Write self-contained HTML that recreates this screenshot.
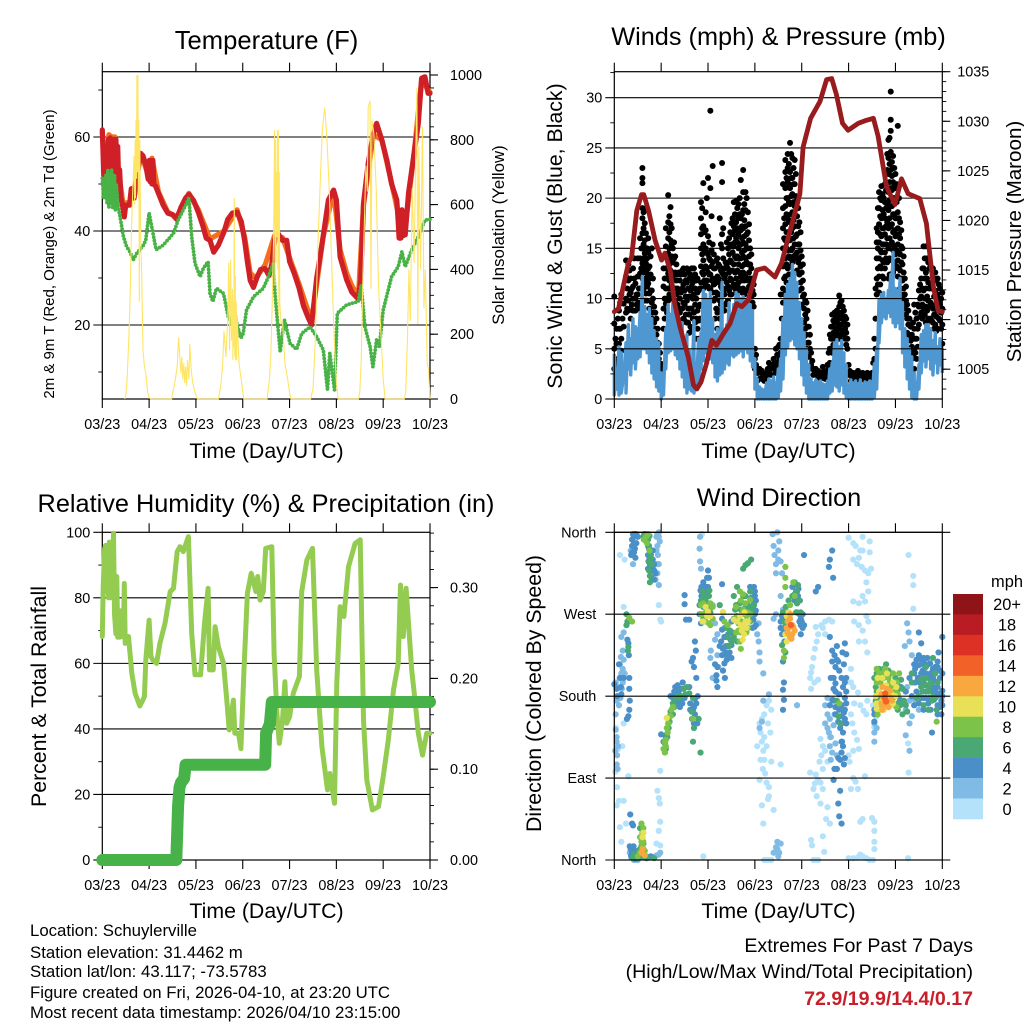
<!DOCTYPE html>
<html lang="en">
<head>
<meta charset="utf-8">
<title>Station Meteogram - Schuylerville</title>
<style>
html,body{margin:0;padding:0;background:#fff;}
svg{display:block;font-family:"Liberation Sans",sans-serif;fill:#000;}
text{fill:#000;}
.t{font-size:25.3px;text-anchor:middle;}
.a{font-size:21.3px;text-anchor:middle;}
.f{font-size:16.8px;}
.e{font-size:19.6px;text-anchor:end;}
</style>
</head>
<body>
<svg id="fig" width="1024" height="1024" viewBox="0 0 1024 1024" xmlns="http://www.w3.org/2000/svg">
<rect x="0" y="0" width="1024" height="1024" fill="#fff"/>
<g id="p1"></g>
<g id="p2"></g>
<g id="p3"></g>
<g id="p4"></g>
<g id="legend"></g>
<text class="t" style="font-size:25.6px" x="266.5" y="49">Temperature (F)</text>
<text class="t" x="778.5" y="45">Winds (mph) &amp; Pressure (mb)</text>
<text class="t" x="266" y="512">Relative Humidity (%) &amp; Precipitation (in)</text>
<text class="t" x="779" y="506">Wind Direction</text>
<text class="a" x="266.5" y="458">Time (Day/UTC)</text>
<text class="a" x="778.5" y="458">Time (Day/UTC)</text>
<text class="a" x="266.5" y="918">Time (Day/UTC)</text>
<text class="a" x="778.5" y="918">Time (Day/UTC)</text>
<text font-size="15" text-anchor="middle" transform="translate(54,254) rotate(-90)">2m &amp; 9m T (Red, Orange) &amp; 2m Td (Green)</text>
<text font-size="16.8" text-anchor="middle" transform="translate(504,235) rotate(-90)">Solar Insolation (Yellow)</text>
<text class="a" transform="translate(562,236) rotate(-90)">Sonic Wind &amp; Gust (Blue, Black)</text>
<text class="a" style="font-size:20.6px" transform="translate(1021,241.5) rotate(-90)">Station Pressure (Maroon)</text>
<text class="a" transform="translate(46,696.5) rotate(-90)">Percent &amp; Total Rainfall</text>
<text class="a" transform="translate(541,693.5) rotate(-90)">Direction (Colored By Speed)</text>
<text class="f" x="30" y="936">Location: Schuylerville</text>
<text class="f" x="30" y="958">Station elevation: 31.4462 m</text>
<text class="f" x="30" y="977">Station lat/lon: 43.117; -73.5783</text>
<text class="f" x="30" y="998">Figure created on Fri, 2026-04-10, at 23:20 UTC</text>
<text class="f" x="30" y="1018">Most recent data timestamp: 2026/04/10 23:15:00</text>
<text class="e" x="973" y="952">Extremes For Past 7 Days</text>
<text class="e" x="973" y="978">(High/Low/Max Wind/Total Precipitation)</text>
<text class="e" x="973" y="1005" font-weight="bold" style="fill:#c8202a">72.9/19.9/14.4/0.17</text>
</svg>
<script>
// ---- categories and tick labels ----
var dayLabels = ["03/23","04/23","05/23","06/23","07/23","08/23","09/23","10/23"];
var tempTicks = [20,40,60];
var solarTicks = [0,200,400,600,800,1000];
var windTicks = [0,5,10,15,20,25,30];
var pressureTicks = [1005,1010,1015,1020,1025,1030,1035];
var rhTicks = [0,20,40,60,80,100];
var rainTicks = [0,0.1,0.2,0.3];
var dirTicks = [0,90,180,270,360];
var dirTickLabels = ["North","East","South","West","North"];
var speedLabels = ["20+","18","16","14","12","10","8","6","4","2","0"];

// ---- temperature panel series ----
var tempDays = [0,.015,.03,.05,.07,.09,.11,.13,.15,.17,.19,.21,.23,.25,.27,.29,.31,.33,.35,.37,.4,.44,.47,.5,.58,.62,.68,.72,.78,.82,.87,.93,.98,1,1.02,1.04,1.06,1.08,1.1,1.14,1.2,1.3,1.4,1.5,1.59,1.68,1.78,1.85,1.95,2.05,2.15,2.22,2.3,2.38,2.48,2.6,2.68,2.78,2.88,2.97,3.04,3.1,3.16,3.23,3.3,3.38,3.48,3.56,3.62,3.68,3.75,3.85,3.94,4,4.1,4.2,4.3,4.4,4.47,4.58,4.72,4.83,4.94,5,5.08,5.22,5.33,5.47,5.52,5.58,5.68,5.79,5.86,5.97,6.08,6.18,6.29,6.32,6.34,6.36,6.38,6.4,6.43,6.45,6.47,6.54,6.65,6.75,6.82,6.89,6.96,7];
var tempF = [61.5,57,52,50,54,50.5,56,59.5,52,59.8,51,50,57,59.5,52,59.5,54,58,50,53,47,45,43,45.5,45.5,49,47,50,54,56.5,56,54,51,55,50.5,55,50,55,50,49.5,48,45.5,43.8,43.5,42.5,45,47,47.8,46.5,44,41,38.5,38,35.5,37,39.8,42.5,43.8,44,42,38,33.5,29.5,28,30,31.8,32,30.5,33,38,39.5,38,38,33.5,31,28,24,21.5,20,30,39,46.6,48.7,46.6,34.5,29.6,27,25.5,29.6,45.9,54.4,60.8,62.9,59.4,55,50,46.6,42,38.5,44,38.5,44.5,39,44,39.2,48,55.8,62.9,72.5,72.8,69.3,69.3];
var temp9mDays = [0,.06,.14,.2,.27,.34,.44,.58,.72,.82,.98,1.06,1.2,1.4,1.59,1.85,2.05,2.3,2.6,2.88,3.04,3.16,3.28,3.48,3.68,3.85,4,4.2,4.47,4.72,4.94,5.08,5.22,5.33,5.47,5.58,5.79,5.97,6.18,6.36,6.47,6.65,6.82,7];
var temp9mF = [61,52,60.5,60,60,53,46,46,50.5,56.5,52,55.5,48.3,44,43,48,44.5,38.3,40,44.5,38.8,31,30,32.8,39,38.6,34.3,28.8,20.8,39,48.5,36,31,28.4,26,45.5,60.5,59.4,50.2,42,41,55.6,72,69.5];
var tdDays = [0,.03,.06,.08,.1,.12,.14,.16,.18,.2,.22,.24,.26,.28,.3,.33,.35,.38,.45,.52,.59,.66,.73,.88,.93,1,1.07,1.15,1.3,1.52,1.62,1.8,1.85,1.91,1.98,2.09,2.16,2.26,2.3,2.36,2.44,2.59,2.69,2.76,2.81,2.87,2.96,3.01,3.08,3.23,3.44,3.55,3.65,3.69,3.75,3.8,3.89,4.01,4.15,4.26,4.44,4.58,4.72,4.81,4.86,4.96,5.02,5.22,5.47,5.53,5.61,5.72,5.78,5.86,5.92,6,6.18,6.32,6.4,6.47,6.61,6.75,6.89,7];
var tdF = [51.2,47,48,52,46,53,45,52,45.5,53,45,45.9,52,44.5,50,46,44.5,43,38.8,36.7,35.6,33.8,35.2,37,38.1,43.8,40.2,36,37,39.5,42.3,45.9,47,38.8,33.1,30.3,32.1,33.5,26.7,25,27.8,26.7,21.8,20.4,23.9,20.4,17.2,18.2,23.2,26,27.8,30.3,33.1,26.7,19.6,14.3,21.1,16.1,14.8,18.2,19.6,17.5,14.7,6.2,14,6.2,22.5,24.3,25,28.5,19.6,15.4,11.1,16.8,15.4,23.2,30.3,32.4,35.6,32.4,36,38.8,42.3,42.5];
var solarObs = [[.48,0],[.5,10],[.53,60],[.57,200],[.6,350],[.62,500],[.65,640],[.68,750],[.69,600],[.7,800],[.71,620],[.72,860],[.73,680],[.74,1000],[.75,700],[.76,1000],[.77,620],[.78,860],[.79,300],[.8,800],[.82,500],[.84,400],[.87,150],[.9,100],[.93,80],[.97,20],[1,5],[1.03,0],
[1.48,0],[1.52,30],[1.56,60],[1.6,100],[1.63,190],[1.66,120],[1.68,80],[1.7,130],[1.72,60],[1.74,110],[1.76,50],[1.78,100],[1.8,40],[1.82,120],[1.85,60],[1.87,170],[1.9,90],[1.93,50],[1.98,20],[2.03,0],
[2.48,0],[2.53,40],[2.57,100],[2.6,210],[2.64,130],[2.68,250],[2.7,420],[2.72,150],[2.74,430],[2.76,180],[2.78,340],[2.79,120],[2.8,300],[2.81,160],[2.82,620],[2.83,130],[2.84,380],[2.85,120],[2.86,300],[2.87,120],[2.88,260],[2.92,110],[2.97,60],[3.02,0],
[3.52,0],[3.57,60],[3.6,130],[3.63,290],[3.66,500],[3.68,830],[3.69,350],[3.7,800],[3.71,420],[3.72,700],[3.73,500],[3.74,830],[3.75,400],[3.76,830],[3.77,260],[3.78,700],[3.79,300],[3.82,230],[3.85,240],[3.9,110],[3.95,70],[4,20],[4.03,0],
[4.45,0],[4.5,30],[4.55,180],[4.6,450],[4.65,650],[4.7,830],[4.75,900],[4.8,800],[4.85,640],[4.9,420],[4.95,200],[5,50],[5.04,0],
[5.47,0],[5.5,20],[5.53,120],[5.57,400],[5.6,560],[5.63,720],[5.66,640],[5.68,900],[5.72,920],[5.74,340],[5.76,860],[5.8,820],[5.85,650],[5.9,350],[5.95,210],[6,60],[6.04,0],
[6.45,0],[6.48,20],[6.52,190],[6.55,400],[6.58,240],[6.62,650],[6.66,420],[6.7,800],[6.72,960],[6.74,230],[6.76,780],[6.8,400],[6.84,840],[6.87,280],[6.9,400],[6.94,110],[6.97,90],[7,0]];

// ---- winds panel series ----
var sampleStepDays = 0.05;
var windHigh = [4.5,3,5.2,4.6,2.4,5.6,7.4,6,8,7.2, 7,8.6,12.2,9.2,8.4,9,8,6.8,6,5.6, 2.6,2.2,7,9.4,8.4,9.6,9,8.4,6.8,7.6, 6,6.4,4.8,3.8,7.8,3.6,6,6.6,10.8,10.4, 9.8,10.6,8,6.4,7,6,11.6,6.8,7.4,9.6, 8.2,9.4,10.6,10.4,10,10.2,9.6,10,9.4,8.8, 4,2,1.2,1,.9,1.6,2,1.8,2.2,1.6, 3,4,8,10.4,11.4,12,13.4,12.6,11.6,9.6, 8,6.6,5,3.4,2,1.6,1.9,1.7,1.8,1.5, 1.4,1.8,3,3.6,5.6,5.9,5.2,5.8,4.6,3.4, 1.4,1.9,1.6,1.8,1.5,1.9,1.4,1.7,1.6,1.8, 1.7,3.5,5,9.8,10.4,10.6,10,10.8,12.4,14.6, 11,10.8,12,9.6,7,6,5,4.2,2.6,1.6, 3.4,6.4,6.8,7.4,7.4,7,5.8,6.6,5.2,6, 5];
var windLow = [.4,1,.4,.6,2,.6,3,2.4,3.6,3, 4,4.2,5,5,4.6,3.6,2.6,2,1.2,.8, 0,.4,3,4.6,4.8,5,4.4,4,3,2.2, 1.2,.6,1,.8,.6,1.2,1.4,3,3.8,4.6, 4.2,4,3.6,2.2,1.8,2.4,2.6,3,3.6,3.4, 4.4,4.2,4.4,4.6,4.8,4.2,5,4.6,3.8,3.2, 1,0,0,0,0,0,0,0,0,0, .2,.8,2,4.4,5.2,5.8,6,5.4,5,4, 2.4,1.4,.6,0,0,0,0,0,0,0, 0,0,.6,.8,1.4,1.2,.8,1.4,.6,.2, 0,0,0,0,0,0,0,0,0,0, 0,.2,1,5.6,7.6,8.2,8,8.6,8.2,7.6, 7.2,7.6,7,4.6,3.2,2,1,.2,0,0, 1,2.6,3.8,3.2,4,3,2.4,3.6,2.6,3.4, 2.6];
var gustColumns = [
[10.2,7.5,5,3],[7,5.5,3.5],[8.8,7,5.5],[10.4,6,4.8],[9.5,7.2],[13.8,12.2,10,8.6],[13.4,11.8,9.8,8.8],[12,10.6,9,8],[13,11.2,10,8.8],[11.5,10,8.8],
[14,12.2,10.4,9],[16,14,12.5,11,9.5],[23,22,21.5,19,18,16.5,15,13.5,12],[17.5,15.8,14.5,13,11.5,9.8],[15,14,12.5,11.2,9.8],[13.2,12,10.5,9],[15,10.8,9.6,8],[9.2,7.6,6.4],[8,6.4,5],[5.5,4,3],
[3.5,2.4],[13,11.2,9,7],[17,15.2,13,11,9.5],[20.3,17.6,16,14.5,12.5,11,9.8],[19.1,17.4,15.8,14,12.8,11,10],[15,13.6,12,10.4],[14.2,12.6,11,9.8],[12.4,11,9.4,8],[11.8,10,8.6],[12.8,11,9,7.6],
[12.4,10.8,9.4,7.8],[13,11.6,9.8,7.6],[12,10.2,8.4,6.6],[13,11.2,9,7],[13,12,10.4,8.6,7],[11.8,10,8,6],[10.8,9.2,7.8,6],[19.6,18,16.4,15,13.2,11.6],[21.5,17.2,15.4,13.8,12.4,11],[18.6,16.8,15,13.2,11.4],
[22,16.2,14.4,12.6,11.2],[28.7,21,13.8,12.4,11],[23.2,15.4,13.6,12,10.6],[13,11.5,10,8],[14,12.2,10.5,8.6,7],[18,13.2,11.6,9.8,8],[23.5,21.6,16.4,15,12.6,11,9],[13,12,10.4,8.8],[15.6,13.4,11.6,9.6],[16,14.4,12.6,10.8],
[17.5,15.4,13.6,11.8,10.4],[19.6,17.2,15.2,13.4,11.4],[19.7,17.6,16,14,12,10.6],[19.4,18,16.4,15,13.4,11.6],[21.8,18,16.8,15.4,14,12.2,10.8],[22.8,20.6,18.8,17,15.6,14.2,12.6,11],[20.6,18.8,17.2,15.4,14,12.2,10.8],[18.6,16.6,15,13.4,11.8],[15,13.4,12,10.6],[12,10.8,9.6],
[5,4,3],[2.6,1.8],[3,2],[2.8,2],[2.2,1.8],[2.6,2.2],[3.6,2.6],[3,2.4],[4,3],[5,3.6,2.6],
[5.2,4.4,3.4],[10.4,6,4.6],[21.4,19,17,15,13.2,11,9.6],[23.8,22.6,21,19.2,17.4,15.8,14,12.2,10.6],[24.4,23,21.6,20,18.2,16.6,14.8,13],[25.5,22.6,21,19.4,17.6,15.8,14,12.4],[24,22,20.4,18.6,17,15,13.6],[23.8,21.4,19.2,17.2,15.4,14],[20,18.2,16.4,14.6,12.8],[17.6,15.4,14,12.4,10.8],
[14.2,12.6,11,9.4],[10.4,9,7.6,6.2],[9.6,8,6.4,5],[7.2,5.6,4.2],[4.6,3.4],[3,2.4],[3,2.6],[2.8,2.2],[2.4,2],[3.2,2.6],
[2.4,2],[3.4,2.6],[6.4,5,3.6],[8.4,7.2,6,4.6],[8.6,7.6,6.4,5.4],[8.8,7.8,6.8,6],[10.3,9.2,8,7,6],[9.8,8.6,7.4,6.4],[8.8,7.6,6.4],[8,6.6,5.4],
[3.4,2.4],[2.4,1.8],[2.6,2],[2.2,1.8],[2.8,2.2],[2.4,2],[2.6,2.2],[2.4,1.8],[2.6,2],[2.2,1.8],
[2.6,2],[6,4,2.6],[17,15.6,14,12,10.4],[20.6,19,17.4,15.6,14,12.2,10.6],[21.2,19.8,18,16.2,14.6,13],[20,18.4,17,15.4,13.6,12],[22.6,20.8,19,17.2,15.4,14],[25.8,24,22.4,20.6,18.8,17,15,12],[30.6,27.8,26.7,24.6,22.8,21,19.2,17.2,15.4],[24.2,23,21.6,20,18.4,16.6,14.8,12.6],
[22.4,21,19.6,18,16.2,14.4,13],[27.2,21,18.6,17,15.4,13.8,12.2],[17.6,16,14.4,12.8,11],[15,13.4,11.8,10],[12,10.4,9],[9.4,8,6.6],[8,6.4,5],[6.4,5.2,4],[9.4,7,5,3],[8,6,4],
[10.8,9.2,7.4],[12,10.2,8.6],[15.2,13,10.8,9],[15.2,12.6,11,9.2,7.6],[13.6,11.6,9.8,8],[13.2,11.4,9.6,8],[13,11,9,7.6],[12.6,10.8,9,7.4],[12,10.4,8.8,7],[11,9.4,7.8],
[10.6,9,7.4,5.5]];
var gustColumnsHalfStep = [
[6],[8,4],[9.6,7],[8],[],[11,9],[12.8,10.4],[11,9.4],[14,12],[10.4,9.4],
[11,9.6],[15,13,11],[18.6,17,15.4,14,12.6,11],[19,16.5,15,13.5,12,10.5],[16,14.6,13,11.5],[14.2,12.4,10.8],[12,10,8.6],[8.6,7],[7,5.6],[4.6,3.4],
[3],[12,10,8],[14.4,12,10,8.6],[18.2,16.6,15,13.4,11.8,10.4],[17,15.4,14.2,12.6,11.4],[15.6,14,12.4,11],[13.4,11.8,10.4,9],[12.6,10.6,9],[12.4,10.6,9],[13,11.4,9.6,8],
[11.8,10.2,8.4],[12.6,11,9,7.6],[12.4,10.8,9,7.2],[13,11.6,10,8],[12.4,11,9.4,7.6],[12,10.6,8.8,7],[11,9.4,8],[19,17,14.4,12.6,11],[16.6,14.8,13,11.8],[20,14.6,13,11.8],
[15.6,14,12.4,11],[18.2,14.8,13.2,11.8],[14.4,13,11.4,9.8],[13.8,12,10.6,9],[13.4,12,10.4,8.8],[15.4,12.8,11.2,9.4],[17,14,12.4,10.6],[13.6,12.4,11,9.4],[15,13,11.2,9.8],[16.6,15.2,13.8,12,10.4],
[18,16.4,14.6,12.8,11.2],[18.4,16.8,15.6,14.2,12.6,11],[19,17,15.6,14.2,12.8,11.2],[20,18.4,16.8,15.4,14,12.6,11],[18.4,17.2,16,14.6,13.2,11.8,10.6],[19.4,17.8,16.2,14.8,13.4,11.8,10.4],[20,16.4,15,13.6,12,10.8],[17.4,15.8,14.2,12.6,11.2],[14.4,13,11.6,10.2],[11.4,10.4,9.2],
[4.4,3.4],[2.6],[2.6],[2.4],[2.4],[3],[3.2],[3.4],[3.6,3],[4.4,3.2],
[5.4,4],[8,6],[18,16,14,12,10.4],[22,20,18.4,16.6,15,13.4,11.6],[23.4,21.4,19.6,17.8,16,14.2,12.4],[24.4,22,20.2,18.4,16.6,14.8,13.2],[23,21.4,19.6,17.8,16,14.2],[22.4,20.2,18.2,16.2,14.4],[19,17.2,15.4,13.6],[16.6,14.8,13.2,11.6],
[13.4,11.8,10.2],[9.8,8.4,7],[8.8,7.2,5.6],[6.4,5],[3.8,3],[2.8],[2.8],[2.6],[2.6],[2.8],
[2.6],[4.6,3],[7.2,6,4.8],[7.8,6.6,5.4],[8.2,7,6],[8.4,7.4,6.4],[9.6,8.4,7.4,6.4],[9.2,8,6.8],[8.2,7,6],[7.4,6,5],
[2.8],[2.2],[2.4],[2],[2.4],[2.2],[2.4],[2],[2.4],[2],
[3.6],[11,8,5],[19,16.6,15,13,11.4],[20,18.2,16.4,14.8,13.2,11.4],[20.4,18.8,17,15.4,13.8,12.2],[21.4,19.6,18,16.4,14.6,13],[24.4,22.8,21,19.4,17.6,16,13.6],[26,23.4,21.6,19.8,18,16,14,12.4],[23.6,22.2,20.8,19.2,17.4,15.6,13.8],[23,21.4,20,18.4,16.8,15.2,13.6],
[21.4,19.6,18,16.4,14.8,13.2],[20,18,16.4,14.6,13],[16.8,15.2,13.6,12,10.4],[14.2,12.6,11,9.4],[11.2,9.8,8.4],[8.8,7.4,6],[7.2,5.8,4.6],[7.6,6,4.4],[8.6,6,4.6],[9.4,7,5.2],
[11.4,10,8.2],[13,11,9.4,8],[14,12,10,8.4],[14,12,10.2,8.8],[13,11,9.2,7.8],[12.8,11,9.4,7.8],[12,10.2,8.4,7],[11.8,10,8.2,6.8],[11.4,9.6,8],[10,8.6,7]];
var pressureDays = [0,.09,.19,.3,.37,.48,.58,.63,.73,.87,1.01,1.08,1.19,1.29,1.4,1.58,1.69,1.76,1.85,1.97,2.08,2.18,2.33,2.47,2.61,2.72,2.86,3.04,3.21,3.43,3.57,3.68,3.89,3.96,4.03,4.19,4.39,4.53,4.64,4.74,4.87,4.99,5.21,5.38,5.53,5.63,5.81,5.99,6.13,6.27,6.52,6.66,6.81,6.91,7];
var pressureMb = [1010.8,1011.1,1013.3,1015.7,1016.3,1021,1022.6,1022.6,1021,1018,1016,1016.7,1015,1011.6,1009.3,1006.2,1003.4,1003,1003.7,1005.6,1007.9,1007.4,1008.6,1009.6,1011.6,1011.3,1012,1015,1015.2,1014.3,1015.7,1017.7,1021.4,1022.7,1027.4,1030.3,1032,1034.2,1034.3,1032.7,1029.8,1029.1,1029.8,1030.1,1030.3,1028.5,1023.4,1021.6,1024.2,1022.7,1022.2,1019.7,1013.3,1010.9,1010.8];

// ---- humidity and rainfall series ----
var rhDays = [0,.02,.05,.07,.09,.11,.13,.15,.17,.2,.22,.24,.26,.29,.31,.33,.35,.37,.39,.41,.43,.45,.47,.49,.56,.63,.7,.8,.9,.93,1,1.04,1.08,1.16,1.23,1.34,1.45,1.52,1.6,1.66,1.73,1.84,1.91,1.98,2.1,2.19,2.26,2.29,2.37,2.41,2.48,2.59,2.66,2.71,2.8,2.83,2.91,2.96,3.03,3.1,3.18,3.28,3.32,3.37,3.44,3.49,3.62,3.67,3.73,3.78,3.85,3.9,3.94,4,4.08,4.21,4.26,4.37,4.49,4.58,4.69,4.81,4.86,4.96,5.01,5.08,5.16,5.26,5.4,5.51,5.58,5.65,5.77,5.9,6,6.11,6.22,6.32,6.37,6.43,6.49,6.61,6.68,6.75,6.84,6.93,7];
var rhPct = [68.2,83.4,95,96,82,96,80,97,80,97,84,99.7,75,69,86.5,68,76,68,76,70,75,68,84.4,66.1,68.2,57,50.9,47,49.8,61,73.2,62,61,60,66.1,72.2,81.9,82.9,94.1,95.6,94.1,98.7,69.2,56.5,56.5,73.2,82.9,58,58,71.2,65.1,60,48.8,39.7,48.8,38.7,38.7,34,59,81.4,87.5,81.9,86.5,79.3,81.9,95.1,95.6,63,44.8,35.6,42.7,54.4,41.7,43.7,50.9,56,81.9,91.6,95.1,58,34.6,21.4,26.4,17.3,53.9,77.3,74.3,89.5,96.6,97.7,42.7,24.4,15.3,16.3,25.4,36.6,51.9,60,83.9,68.2,82.9,58,48.8,38.7,32,38.7,38.7];
var rainDays = [0,1.58,1.6,1.62,1.65,1.68,1.75,1.78,1.85,3.48,3.5,3.58,3.62,7];
var rainInches = [0,0,.03,.06,.08,.085,.09,.105,.105,.105,.14,.15,.174,.174];

// ---- wind direction observations: [day, degrees] grouped by speed class ----
var dirSpeed0 = [[3.1,150],[3.12,140],[3.15,130],[3.18,120],[3.2,110],[3.17,100],[3.22,95],[3.25,85],[3.3,80],[3.3,70],[3.2,160],[3.25,170],[3.3,175],[3.35,165],[3.28,150],[3.33,140],[3.25,125],[3.15,155],[3.12,110],[3.2,135],[3.05,125],[3.35,108],[3.55,105],[3.2,0],[3.25,0],[3.3,0],[3.35,0],[3.4,55],[3.15,60],[3.18,40],[3.1,88],[3.28,67],
[4.2,206],[4.22,212],[4.25,222],[4.28,232],[4.32,240],[4.35,248],[4.3,256],[4.42,258],[4.5,262],[4.58,264],[4.65,262],[4.18,200],[4.2,188],[4.27,195],[4.35,198],[4.45,255],[4.5,248],[4.4,133],[4.45,125],[4.5,120],[4.42,115],[4.38,108],[4.45,100],[4.3,94],[4.35,88],[4.28,84],[4.4,85],[4.45,78],[4.55,108],[4.6,135],[4.7,100],[4.25,78],[4.32,70],[4.4,62],[4.55,58],[4.6,40],[4.2,22],[4.22,16],[4.25,0],[4.3,0],[4.35,0],[4.52,45],[4.45,26],[4.48,9],
[5,354],[5.1,348],[5.15,345],[5.25,340],[5.3,340],[5.3,355],[5.45,350],[5.45,338],[5.1,330],[5.18,325],[5.22,332],[5.28,322],[5.35,318],[5.42,315],[5.48,320],[5.38,305],[5.42,295],[5.3,290],[5.35,284],[5.22,282],[5.1,284],[5.12,262],[5.22,258],[5.3,252],[5.38,268],[5.42,262],[5.22,240],[5.35,240],[5.4,228],[5.05,210],[5.05,195],[5.1,190],[5.2,184],[5.12,172],[5.25,170],[5.32,164],[5.38,160],[5.4,175],[5.05,160],[5.08,150],[5.12,140],[5.18,132],[5.22,122],[5.1,120],[5,115],[5.02,108],[5.1,90],[5.15,86],[5.35,92],[5.2,78],[5.05,78],[5.25,42],[5.3,45],[5.5,46],[5.55,42],[5.55,32],[5.55,20],[5.55,12],[5,2],[5.1,2],[5.2,3],[5.25,6],[5.3,4],[5.38,2],[5.45,0],[5.52,0],[6.27,2],[5.52,170],[5.6,158],[5.55,146],
[.03,145],[.08,122],[.17,125],[.2,150],[.05,60],[.1,65],[.2,65],[.25,40],[.15,20],[.12,36],[.06,80],[.02,97],[.3,92],[.12,335],[.22,330],[.2,278],[.95,280],[.98,264],[1,262],[.98,98],[.92,76],[.95,68],[.97,62],[.98,42],[.95,32],[.98,16],[.9,18],[1.9,4],[1.87,358],[6.28,335],[6.38,312],[6.38,302],[6.38,276],[6.28,96],[6.27,128],[3.85,302],[4.18,96]];
var dirSpeed2 = [[.03,160],[.05,175],[.03,195],[.12,200],[.13,178],[.18,195],[.2,250],[.15,245],[.12,215],[.18,230],[.14,223],[.22,205],[.05,135],[.08,125],[.03,143],[.06,115],[.95,355],[.92,345],[.93,335],[.95,325],[.92,315],[.88,308],[.95,302],[.16,188],[.4,325],[.35,340],[1.83,355],[1.82,342],[1.83,328],[1.85,320],[2.15,242],[2.2,225],[2.22,212],[2.1,280],[2.06,230],[2.05,222],[2.15,260],[3.08,260],[3.05,248],[3.08,240],[3.1,228],[3.1,218],[3.18,205],[3.3,182],[3.15,152],[3.1,145],[3.18,175],[3.38,358],[3.4,345],[3.42,335],[3.45,325],[3.5,340],[3.52,350],[3.48,360],[3.45,315],[3.55,290],[3.4,265],[3.45,270],[3.45,14],[3.48,12],[3.52,8],[3.5,4],[3.4,8],[3.55,18],[3.48,20],[3.6,275],[4.7,160],[4.6,155],[4.55,145],[4.62,135],[4.68,148],[4.72,128],[4.75,115],[4.65,118],[5.55,130],[5.55,140],[5.55,150],[5.6,145],[6.25,260],[6.28,250],[6.3,240],[6.35,225],[6.2,235],[6.25,190],[6.3,175],[6.35,158],[6.22,165],[6.3,150],[6.22,137],[6.3,120],[6.42,176],[6.5,165],[3.58,315],[3.9,170],[2.1,200],[2.2,248],[2.35,255],
[.33,8],[.36,3],[.42,0],[.5,0],[.85,3],[.9,5],[.95,6],[.98,8],[.9,355],[.92,358],[.95,360],[.97,350],[.9,340],[.92,325],[.1,170],[.15,205],[.18,210],[.08,190],[.2,220],[.02,120],[.05,130],[.05,105],[.07,100],[4.5,170],[4.55,160],[4.5,150],[4.6,125],[4.62,110],[4.65,175],[4.55,178],[4.58,140],[3.5,330],[3.55,328]];
var dirSpeed4 = [[.38,352],[.42,355],[.45,358],[.4,345],[.38,338],[.44,342],[.47,348],[.45,332],[.1,215],[.14,190],[.12,200],[.15,182],[.2,200],[.32,200],[.32,188],[.33,175],[.32,165],[.3,158],[.27,155],[.31,225],[.3,238],[.28,242],[.74,342],[.78,335],[.82,340],[.85,325],[.75,320],[.78,318],[.82,322],[.88,315],[.85,308],[.8,310],[.05,188],[0,193],[.06,180],[1.1,135],[1.05,130],[1,138],[1.2,180],[1.3,190],[1.35,182],[1.38,172],[1.42,188],[1.46,195],[1.5,178],[1.4,176],[1.3,175],[1.6,190],[1.62,172],[1.66,155],[1.7,150],[1.72,160],[1.68,165],[1.72,177],[1.78,180],[1.75,200],[1.7,212],[1.74,230],[1.72,240],[1.68,222],[1.65,218],[1.84,296],[1.9,305],[1.86,290],[1.93,283],[2,318],[2.02,310],[1.82,270],[1.85,260],[1.96,294],[2,275],[2.3,303],[1.5,291],[1.5,281],[1.53,264],[1.6,264],[2.15,215],[2.2,212],[2.18,203],[2.18,197],[2.2,190],[2.25,235],[2.3,253],[2.38,245],[2.42,235],[2.36,226],[2.4,220],[2.46,228],[2.5,236],[2.35,216],[2.32,208],[2.5,262],[2.43,248],[2.5,222],[2.36,200],[2.9,300],[2.92,288],[2.98,282],[3.02,274],[2.97,264],[2.99,256],[3.02,258],[3,290],[2.95,268],[3.55,262],[3.58,248],[3.62,252],[3.63,240],[3.8,300],[3.85,285],[3.9,272],[3.95,262],[3.98,258],[4.02,270],[3.92,290],[3.98,248],[3.6,218],[3.6,187],[3.62,176],[3.62,195],[3.6,165],[4.05,335],[4.3,295],[4.35,300],[4.6,330],[4.58,322],[4.65,340],[4.67,310],[4.6,245],[4.65,230],[4.75,235],[4.92,238],[4.87,228],[4.95,226],[4.78,218],[4.72,212],[4.68,200],[4.72,194],[4.8,208],[4.85,200],[4.88,190],[4.92,195],[4.72,185],[4.7,175],[4.8,182],[4.85,170],[4.95,172],[4.9,162],[4.92,155],[4.72,168],[4.78,152],[4.85,158],[4.82,145],[4.88,140],[4.86,130],[4.85,118],[4.92,112],[4.9,105],[4.7,100],[4.68,88],[4.82,76],[4.78,62],[4.85,40],[4.8,48],[5.55,165],[5.55,152],[5.55,160],[6.05,192],[6.1,176],[6.12,190],[6.22,185],[6.3,200],[6.35,180],[6.4,170],[6.5,250],[6.55,238],[6.42,215],[6.4,205],[6.42,210],[6.5,214],[6.55,205],[6.6,195],[6.7,215],[6.8,210],[6.9,212],[6.95,200],[7,245],[6.8,190],[6.88,180],[6.9,170],[6.98,160],[6.98,175],[7,186],[6.6,178],[6.65,185],[6.72,178],[6.85,196],[6.92,228],[6.78,140],[6.6,222],[.41,5],[.38,3],[.45,1],[.41,15],[.45,10],[.5,6],[.78,4],[.68,2],[.34,50],[.38,40],[.4,38],[.37,14],
[6.4,215],[6.45,220],[6.5,225],[6.55,220],[6.6,218],[6.65,205],[6.7,200],[6.75,205],[6.8,200],[6.85,212],[6.9,218],[6.95,208],[7,205],[6.42,195],[6.48,200],[6.52,195],[6.58,208],[6.62,214],[6.68,222],[6.74,216],[6.8,185],[6.85,185],[6.9,190],[6.95,183],[7,180],[6.95,168],[6.75,165],[6.7,172],[6.6,165],[6.5,172],[6.45,185],[6.55,178],[6.65,178],[6.72,190],[6.82,176],[6.9,160],[7,170],[6.88,210],[6.78,198],
[2.3,265],[2.35,245],[2.38,235],[2.4,228],[2.42,225],[2.45,235],[2.48,242],[2.52,250],[2.3,225],[2.32,232],[2.28,240],
[.72,335],[.75,330],[.78,328],[.8,318],[.76,325],[.82,330],[.85,318],[.72,320],[.38,345],[.4,358],[.42,348],[.44,358],[.47,358],[.5,355],[.42,338],[.36,335],
[1.3,183],[1.33,188],[1.28,185],[1.35,192],[1.38,186],[1.42,180],[1.25,178],[1.45,172],[1.4,168],[1.62,165],[1.7,168],[1.75,172],[1.77,150],
[1.86,300],[1.9,295],[1.95,300],[1.98,310],[1.88,285],[1.92,292],[1.82,280],[2,300],[2.03,280],
[3.95,270],[3.98,265],[4,262],[4.02,255],[4.05,258],[3.9,282],[3.88,295],[3.93,298],[3.96,285],[3.6,262],[3.62,270],[3.55,255],[3.58,268],
[2.95,295],[2.98,300],[3,295],[3.02,285],[3,270],[2.95,255],[2.92,278],
[4.62,200],[4.68,188],[4.66,176],[4.72,160],[4.8,165],[4.85,130],[4.88,125],[4.82,110],[4.78,112],[4.75,100],[4.95,200],[4.95,185],[4.92,178],[4.9,215],[4.75,220],[4.7,225],[4.65,218],[4.6,170],[4.85,150],[4.92,165],[4.95,150],
[.35,12],[.38,8],[.4,4],[.42,8],[.45,4],[.48,3],[.52,2],[.55,3],[.36,5],[.33,15]];
var dirSpeed6 = [[.62,355],[.66,358],[.7,354],[.75,356],[.72,352],[.74,345],[.78,332],[.8,325],[.73,328],[.76,312],[.26,270],[.3,262],[.28,262],[.26,258],[.3,234],[.29,230],[1.08,128],[1.12,138],[1.18,152],[1.2,163],[1.25,172],[1.3,178],[1.42,180],[1.55,190],[1.6,183],[1.68,178],[1.65,163],[1.8,155],[1.84,118],[1.7,145],[1.85,285],[1.9,278],[1.98,290],[2.03,296],[2,270],[1.92,270],[2.05,272],[2.25,280],[2.32,272],[2.38,255],[2.42,245],[2.47,252],[2.55,265],[2.55,290],[2.62,300],[2.68,282],[2.8,278],[2.85,280],[2.9,262],[2.9,275],[2.98,280],[2.75,320],[2.8,324],[2.85,326],[2.92,330],[3.6,272],[3.65,256],[3.72,272],[3.58,236],[3.85,292],[3.92,302],[3.9,282],[3.98,272],[3.65,228],[5.55,200],[5.6,185],[5.62,170],[5.68,172],[5.75,182],[5.85,208],[5.8,215],[5.95,178],[6.05,172],[6.12,198],[6.15,188],[6.22,170],[6.25,163],[6.15,160],[6.35,195],[6.55,190],[6.6,170],[6.65,192],[6.72,190],[6.85,205],[6.78,175],[6.8,222],[6.65,212],[6.88,165],[.4,2],[.55,35],[.6,25],[.55,12],[.6,8],[.7,2],[.85,2],[1.68,130],[4.75,175],[4.78,158],[4.82,150],
[6.35,205],[6.45,178],[6.5,180],[6.55,198],[6.6,200],[6.65,200],[6.7,185],[6.75,195],[6.8,180],[6.85,178],[6.7,165],[6.9,195],[6.62,192],[6.58,185],
[5.58,190],[5.6,205],[5.65,210],[5.68,208],[5.75,210],[5.9,205],[6,200],[6.08,188],[6.1,170],[5.58,175],[5.62,178],[6.05,165],[6.12,172],[6.18,175],
[2.65,260],[2.7,275],[2.75,290],[2.8,290],[2.85,270],[2.6,280],[2.58,275],[2.62,240],[2.55,245],[2.5,240],[2.45,235],[2.9,295],[2.95,272],
[1.1,122],[1.13,135],[1.16,145],[1.25,160],[1.28,168],[1.35,180],[1.38,178],[1.48,188],[1.52,182],
[3.62,262],[3.66,278],[3.72,285],[3.8,290],[3.85,305],[3.9,295],[3.95,285],[3.88,272],
[1.88,295],[1.92,290],[1.95,285],[1.9,265],[2.02,290],[1.98,280],
[.64,358],[.68,350],[.72,345],[.76,335],[.78,325],[.74,318],[.76,305],
[.42,6],[.45,3],[.52,6],[.58,4],[.62,3],[.68,4],[.58,15],[.62,18],[.52,10]];
var dirSpeed8 = [[.63,352],[.68,355],[.7,348],[.72,358],[.75,340],[.32,266],[.38,262],[1.1,132],[1.12,145],[1.15,150],[1.22,165],[1.18,158],[1.68,155],[1.9,282],[1.85,270],[1.95,272],[2.05,282],[2.02,260],[2.1,278],[2.35,262],[2.42,258],[2.6,250],[2.62,268],[2.7,285],[2.75,275],[2.82,268],[2.88,262],[2.85,255],[2.72,262],[2.78,252],[2.68,240],[2.9,286],[3.65,322],[3.65,310],[3.65,300],[3.82,305],[3.68,268],[3.75,280],[3.85,290],[3.62,230],[3.62,222],[.58,40],[.6,30],[.62,20],[.55,25],[.62,12],[.5,4],[6.88,152],[5.6,195],[5.72,205],[5.78,210],[5.88,195],[5.65,168],[6.02,195],[6.05,182],[6.02,168],[4.8,172],
[1.05,122],[1.08,130],[1.1,125],[1.14,140],[1.16,150],[1.2,158],[1.25,168],[1.08,118],
[2.65,252],[2.7,250],[2.72,270],[2.8,282],[2.85,272],[2.9,270],[2.75,292],[2.68,295],[2.6,278],[2.82,250],[2.7,232],
[5.6,210],[5.65,205],[5.68,195],[5.75,200],[5.85,200],[5.9,190],[5.95,205],[6,185],[6.08,205],[5.62,160],
[1.85,280],[1.9,270],[1.95,262],[2.1,265],[2.05,258],[.58,20],[.6,15],[.62,35],[.55,8],[.65,10]];
var dirSpeed10 = [[1.12,156],[1.9,262],[2,273],[1.98,268],[2.05,268],[2.32,272],[2.68,268],[2.7,258],[2.78,272],[2.75,258],[2.77,248],[2.8,262],[2.62,262],[2.55,264],[3.65,248],[3.68,240],[3.72,272],[3.68,268],[5.6,166],[5.72,175],[5.62,200],[5.82,205],[5.95,195],[6.02,190],[5.72,200],[.6,25],[.62,30],[5.65,172],[5.85,168],[5.92,182],
[5.65,185],[5.7,165],[5.75,165],[5.8,192],[5.9,170],[5.95,172],[6,180],[5.58,180],[5.6,172],[2.72,252],[2.74,242],[2.82,255],[2.85,262],[1.88,262],[1.95,278]];
var dirSpeed12 = [[3.7,262],[3.75,265],[3.78,258],[3.8,248],[3.72,255],[3.76,270],[3.82,256],[3.78,243],[3.7,250],[3.85,252],[5.72,190],[5.78,180],[5.82,188],[5.88,176],[5.92,175],[5.75,170],[5.85,168],[5.7,182],[.6,12],[.58,8],[.65,5],
[5.7,172],[5.75,178],[5.82,172],[5.88,186],[5.9,178],[5.72,165],[5.85,180],[3.68,255],[3.72,248],[3.75,245],[3.8,258]];
var dirSpeed14 = [[3.77,258],[5.77,178],[5.78,183],[5.8,174]];
var speedBinColors = ["#b3e2fa","#7fbbe5","#4a8fc7","#49a873","#7cc34a","#e8e056","#f9a83f","#f26228"];
var speedBinObs = [dirSpeed0,dirSpeed2,dirSpeed4,dirSpeed6,dirSpeed8,dirSpeed10,dirSpeed12,dirSpeed14];
var legendColors = ["#8f1417","#b91c22","#de3126","#f26228","#f9a83f","#e8e056","#7cc34a","#49a873","#4a8fc7","#7fbbe5","#b3e2fa"];

// ---- axis functions ----
function linear(d0,d1,r0,r1){return function(v){return r0+(v-d0)*(r1-r0)/(d1-d0);};}
var NS="http://www.w3.org/2000/svg";
var L1=102.3,R1=430,L2=614.3,R2=942.3,T1=71.7,B1=399,T3=532.3,B3=860;
var x1=linear(0,7,L1,R1), x2=linear(0,7,L2,R2);
var yTemp=linear(20,60,325,137), ySolar=linear(0,1000,399,75);
var yWind=linear(0,30,399,97.7), yPres=linear(1005,1035,369.2,71.7);
var yRH=linear(0,100,B3,T3), yRain=linear(0,0.3,860,587.6), yDir=linear(0,360,B3,T3);

function add(kind,attrs,parent){
  var el=document.createElementNS(NS,kind);
  for(var k in attrs){el.setAttribute(k,attrs[k]);}
  parent.appendChild(el);
  return el;
}
function label(parent,x,y,txt,anchor,size){
  var t=add('text',{x:x,y:y,'text-anchor':anchor,'font-size':size||14.4},parent);
  t.textContent=txt;
  return t;
}
function seg(parent,xa,ya,xb,yb,w){
  return add('line',{x1:xa,y1:ya,x2:xb,y2:yb,stroke:'#000','stroke-width':w||1.1},parent);
}
function pts(days,vals,fx,fy){
  return days.map(function(d,i){return fx(d).toFixed(1)+','+fy(vals[i]).toFixed(1);}).join(' ');
}
function trace(parent,days,vals,fx,fy,color,width){
  return add('polyline',{points:pts(days,vals,fx,fy),fill:'none',stroke:color,'stroke-width':width,'stroke-linejoin':'round','stroke-linecap':'round'},parent);
}

function frame(parent,L,R,T,B,fx){
  var box=add('rect',{x:L,y:T,width:R-L,height:B-T,fill:'none',stroke:'#000','stroke-width':1.2},parent);
  
  
  dayLabels.forEach(function(lab,i){
    var top=seg(parent,fx(i),T-9,fx(i),T);
    
    
    var bot=seg(parent,fx(i),B,fx(i),B+9);
    
    
    var t=label(parent,fx(i),B+30,lab,'middle');
    
    
  });
}
function leftAxis(parent,L,R,ticks,fy,minors,textFn,gridFn,labelX){
  ticks.forEach(function(v,i){
    var gl=seg(parent,L-9,fy(v),gridFn(v)?R:L,fy(v));
    
    
    var t=label(parent,labelX||L-12,fy(v)+5,textFn(v,i),'end');
    
    
  });
  minors.forEach(function(v){
    var m=seg(parent,L-4,fy(v),L,fy(v),.9);
    
    
  });
}
function rightAxis(parent,R,ticks,fy,minors,textFn,offset){
  ticks.forEach(function(v){
    var m=seg(parent,R,fy(v),R+8,fy(v));
    
    
    var t=label(parent,R+offset,fy(v)+5,textFn(v),'start');
    
    
  });
  minors.forEach(function(v){
    var m=seg(parent,R,fy(v),R+4,fy(v),.9);
    
    
  });
}
function range(a,b,s){var o=[];for(var v=a;v<=b+1e-9;v+=s){o.push(+v.toFixed(4));}return o;}

// ---- temperature panel ----
var p1=document.getElementById('p1');
frame(p1,L1,R1,T1,B1,x1);
leftAxis(p1,L1,R1,tempTicks,yTemp,[10,30,50,70],function(v){return String(v);},function(){return true;});
rightAxis(p1,R1,solarTicks,ySolar,range(0,1000,40),function(v){return String(v);},20);
var o9=trace(p1,temp9mDays,temp9mF,x1,yTemp,'#f4701f',5.2);


var r2=trace(p1,tempDays,tempF,x1,yTemp,'#cf1f27',5.2);


var td=trace(p1,tdDays,tdF,x1,yTemp,'#49b247',3.8);
td.setAttribute('stroke-dasharray','0 3.4');


var s=add('polyline',{points:solarObs.map(function(o){return x1(o[0]).toFixed(1)+','+ySolar(o[1]).toFixed(1);}).join(' '),fill:'none',stroke:'#ffe566','stroke-width':1.1},p1);



// ---- winds panel ----
var p2=document.getElementById('p2');
gustColumns.forEach(function(col,i){
  col.forEach(function(v){
    var c=add('circle',{cx:x2(i*sampleStepDays),cy:yWind(v),r:3,fill:'#000'},p2);
    
    
  });
});
gustColumnsHalfStep.forEach(function(col,i){
  col.forEach(function(v){
    var c=add('circle',{cx:x2((i+0.5)*sampleStepDays),cy:yWind(v),r:3,fill:'#000'},p2);
    
    
  });
});
var zigzag=[];
windHigh.forEach(function(h,i){
  var xx=x2(i*sampleStepDays).toFixed(1);
  zigzag.push(xx+','+yWind(h).toFixed(1));
  zigzag.push(xx+','+yWind(windLow[i]).toFixed(1));
});
var wl=add('polyline',{points:zigzag.join(' '),fill:'none',stroke:'#4f97d0','stroke-width':3.4,'stroke-linejoin':'round'},p2);


frame(p2,L2,R2,T1,B1,x2);
leftAxis(p2,L2,R2,windTicks,yWind,[2.5,7.5,12.5,17.5,22.5,27.5,32.5],function(v){return String(v);},function(v){return v>0;});
rightAxis(p2,R2,pressureTicks,yPres,range(1003,1035,1),function(v){return String(v);},15);
var pl=trace(p2,pressureDays,pressureMb,x2,yPres,'#981b1e',4.8);



// ---- humidity panel ----
var p3=document.getElementById('p3');
frame(p3,L1,R1,T3,B3,x1);
leftAxis(p3,L1,R1,rhTicks,yRH,[10,30,50,70,90],function(v){return String(v);},function(v){return v>0&&v<100;});
rightAxis(p3,R1,rainTicks,yRain,range(0,0.36,0.02),function(v){return v.toFixed(2);},20);
var rh=trace(p3,rhDays,rhPct,x1,yRH,'#93cc50',5);


var rn=trace(p3,rainDays,rainInches,x1,yRain,'#47b248',12);



// ---- direction panel ----
var p4=document.getElementById('p4');
speedBinObs.forEach(function(obs,b){
  obs.forEach(function(o){
    var c=add('circle',{cx:x2(o[0]),cy:yDir(o[1]),r:3.1,fill:speedBinColors[b]},p4);
    
    
  });
});
frame(p4,L2,R2,T3,B3,x2);
leftAxis(p4,L2,R2+8,dirTicks,yDir,[],function(v,i){return dirTickLabels[i];},function(){return true;},L2-18);

// ---- speed legend ----
var lg=document.getElementById('legend');
var mphT=label(lg,1007,587,'mph','middle',16.4);


var boxH=(819-594)/speedLabels.length;
speedLabels.forEach(function(lab,i){
  var r=add('rect',{x:953,y:594+i*boxH,width:30,height:boxH+.3,fill:legendColors[i]},lg);
  
  
  var t=label(lg,1007,594+i*boxH+boxH/2+6,lab,'middle',16.4);
  
  
});
</script>
</body>
</html>
